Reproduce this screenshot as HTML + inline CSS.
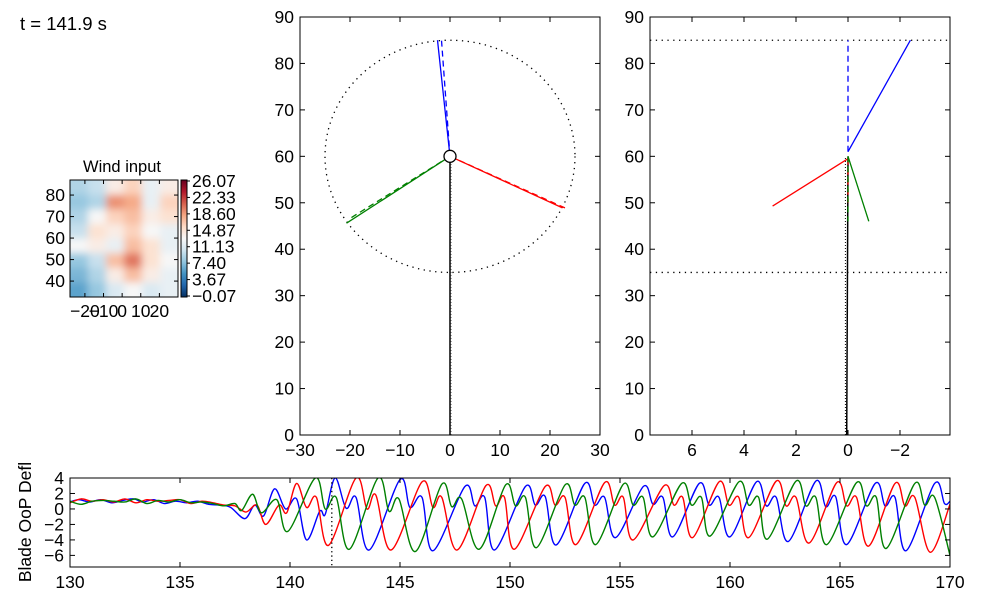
<!DOCTYPE html>
<html><head><meta charset="utf-8"><style>
html,body{margin:0;padding:0;background:#fff;}
svg{display:block;font-family:"Liberation Sans",sans-serif;}
</style></head><body>
<svg id="fig" width="1000" height="597" viewBox="0 0 1000 597" xmlns="http://www.w3.org/2000/svg">
<defs>
<filter id="blur" x="-10%" y="-10%" width="120%" height="120%"><feGaussianBlur stdDeviation="4"/></filter>
<clipPath id="hmclip"><rect x="70" y="180" width="108" height="117"/></clipPath>
<clipPath id="tsclip"><rect x="70" y="478" width="880" height="89"/></clipPath>
<linearGradient id="cbgrad" x1="0" y1="1" x2="0" y2="0">
<stop offset="0" stop-color="#053061"/><stop offset="0.1" stop-color="#2166ac"/><stop offset="0.2" stop-color="#4393c3"/><stop offset="0.3" stop-color="#92c5de"/><stop offset="0.4" stop-color="#d1e5f0"/><stop offset="0.5" stop-color="#f7f7f7"/><stop offset="0.6" stop-color="#fddbc7"/><stop offset="0.7" stop-color="#f4a582"/><stop offset="0.8" stop-color="#d6604d"/><stop offset="0.9" stop-color="#b2182b"/><stop offset="1" stop-color="#67001f"/>
</linearGradient>
</defs>
<text x="20" y="30" font-size="18.5">t = 141.9 s</text>
<g id="hm"></g>
<g id="mid"></g>
<g id="side"></g>
<g id="ts"></g>
</svg>
<script>
// ---------- data ----------
const windGrid = [
 [9,10,14,16,12,14],
 [8,9,19,18,12,16],
 [9,13,16,17,14,15],
 [10,15,14,16,13,12],
 [13,14,12,17,15,12],
 [8,10,17,20,15,13],
 [7,9,14,17,14,12],
 [6,8,11,13,11,12]
];
const cbLabels = ["26.07","22.33","18.60","14.87","11.13","7.40","3.67","\u22120.07"];
const tsXTicks = [130,135,140,145,150,155,160,165,170];
const tsYTicks = [4,2,0,-2,-4,-6];
const frontXTicks = [-30,-20,-10,0,10,20,30];
const yTicks90 = [0,10,20,30,40,50,60,70,80,90];
const sideXTicks = [6,4,2,0,-2];
const blueT=[130,130.4,130.9,131.4,131.9,132.4,132.9,133.3,133.8,134.3,134.8,135.3,135.8,136.3,136.8,137.3,137.95,138.4,138.8,139.3,139.8,140.3,140.75,141.35,141.6,142.05,142.55,143.0,143.6,145.0,145.45,146.0,146.5,147.95,148.4,148.85,149.3,150.7,151.15,151.6,152.1,153.4,153.85,154.3,154.8,156.06,156.5,156.95,157.4,158.6,159.05,159.5,160.0,161.2,161.65,162.1,162.65,163.9,164.35,164.8,165.3,166.6,167.05,167.5,168.0,169.3,169.75,170];
const blueV=[0.9,1.2,0.9,1.2,0.8,1.1,1.3,0.9,1.2,0.7,1.0,0.8,1.0,0.6,0.5,0.2,-1.25,0.5,-0.9,2.6,0.0,1.3,-4.0,-0.3,-0.7,4.0,0.1,1.5,-5.3,3.8,0.2,1.5,-5.4,2.9,0.4,1.5,-5.3,2.9,0.5,1.6,-4.65,3.3,0.5,1.5,-3.7,2.9,0.6,1.5,-3.6,3.3,0.5,1.5,-3.6,3.5,0.4,1.5,-4.2,3.6,0.3,1.6,-4.6,3.3,0.4,1.5,-5.4,3.3,0.7,1.0];
const redT=[130,130.5,131.0,131.5,132.0,132.5,133.0,133.5,134.0,134.5,135.0,135.5,136.0,136.5,137.0,137.5,138.0,138.5,138.9,139.5,139.85,140.3,140.75,141.2,141.75,143.0,143.5,143.9,144.6,146.0,146.5,146.9,147.6,148.9,149.35,149.75,150.2,151.6,152.05,152.5,153.0,154.3,154.75,155.15,155.6,157.0,157.45,157.85,158.3,159.5,159.95,160.4,160.85,162.1,162.55,163.0,163.6,164.85,165.3,165.75,166.3,167.5,167.95,168.4,169.1,170];
const redV=[0.8,1.3,1.0,1.2,0.9,1.3,0.8,1.2,1.0,1.1,1.2,0.7,1.0,0.8,0.5,0.4,-0.4,0.5,-2.0,0.5,-0.5,3.3,0.2,1.5,-4.7,4.0,0.0,1.8,-5.3,3.5,0.2,1.5,-5.3,3.0,0.4,1.5,-5.2,2.9,0.5,1.5,-4.6,3.4,0.5,1.5,-4.0,3.0,0.5,1.5,-3.7,3.5,0.5,1.5,-3.7,3.6,0.4,1.5,-4.4,3.4,0.4,1.5,-4.8,3.3,0.4,1.5,-5.6,0.6];
const greenT=[130,130.5,131.0,131.5,132.0,132.5,133.0,133.5,134.0,134.5,135.0,135.5,136.0,136.5,137.0,137.5,137.8,138.3,138.7,139.4,139.9,141.15,141.6,142.1,142.7,144.0,144.5,144.95,145.7,146.9,147.35,147.8,148.6,149.8,150.25,150.7,151.2,152.5,152.95,153.4,153.9,155.15,155.6,156.05,156.5,157.8,158.25,158.7,159.1,160.4,160.85,161.3,161.7,163.0,163.45,163.9,164.4,165.75,166.2,166.65,167.1,168.4,168.85,169.3,170];
const greenV=[1.0,0.6,1.0,1.1,1.0,0.9,1.3,0.7,1.1,0.9,1.2,0.8,0.9,0.7,0.4,0.7,-0.2,1.9,-0.5,1.2,-2.9,4.0,0.0,1.5,-5.2,4.0,-0.3,1.3,-5.5,3.2,0.3,1.3,-5.2,3.1,0.4,1.5,-5.0,3.1,0.5,1.5,-4.6,3.2,0.5,1.5,-3.6,3.3,0.5,1.5,-3.5,3.5,0.5,1.5,-3.9,3.6,0.4,1.5,-4.6,3.4,0.4,1.5,-5.1,3.3,0.5,1.5,-6.0];
const currentTime = 141.9;
const hubXY=[0,60];
const bladeTipsFront=[[-2.5,85],[22.5,48.9],[-20.7,45.6]];
const bladeDashFront=[[-1.7,85],[23.2,48.8],[-20.2,46.5]];
const bladeRootSide=[[0,61],[0,59.5],[0,60]];
const bladeTipSide=[[-2.4,85],[2.9,49.3],[-0.8,46]];
const bladeDashSide=[[0,85],[0,50],[0,46]];
const colors=["#0000ff","#ff0000","#008000"];
const names=["blue","red","green"];

const NS="http://www.w3.org/2000/svg";
const FS=17.5;
function el(parent,tag,attrs,name,text){const e=document.createElementNS(NS,tag);for(const k in attrs)e.setAttribute(k,attrs[k]);


if(text!==undefined)e.textContent=text;parent.appendChild(e);return e;}
const lin=(d0,d1,r0,r1)=>v=>r0+(v-d0)/(d1-d0)*(r1-r0);

const rdbu=[[5,48,97],[33,102,172],[67,147,195],[146,197,222],[209,229,240],[247,247,247],[253,219,199],[244,165,130],[214,96,77],[178,24,43],[103,0,31]];
function cmap(v){let t=(v+0.07)/(26.07+0.07);t=Math.max(0,Math.min(1,t))*10;const i=Math.min(9,Math.floor(t)),f=t-i;const a=rdbu[i],b=rdbu[i+1];
return `rgb(${a.map((c,k)=>Math.round(c+(b[k]-c)*f)).join(',')})`;}

// ---------- heatmap ----------
const hm=document.getElementById('hm');
const hx=lin(-28,30,70,178), hy=lin(87,32.6,180,297);
el(hm,'text',{x:122,y:172,'font-size':16.5,'text-anchor':'middle'},'heatmap-title','Wind input');
const cells=el(hm,'g',{'clip-path':'url(#hmclip)'},'heatmap-cells');
const inner=el(cells,'g',{filter:'url(#blur)'},'heatmap-blur');
const nr=windGrid.length,nc=windGrid[0].length;
const cw=(178-70)/nc, ch=(297-180)/nr;
windGrid.forEach((row,r)=>row.forEach((v,c)=>{
 el(inner,'rect',{x:70+c*cw-(c==0?8:0),y:180+r*ch-(r==0?8:0),width:cw+(c==0||c==nc-1?8:0)+0.5,height:ch+(r==0||r==nr-1?8:0)+0.5,fill:cmap(v)},'heatmap-cell');
}));
el(hm,'rect',{x:70,y:180,width:108,height:117,fill:'none',stroke:'#000','stroke-width':1},'heatmap-frame');
[80,70,60,50,40].forEach(v=>{const y=hy(v);
 el(hm,'line',{x1:70,x2:74,y1:y,y2:y,stroke:'#000'},'heatmap-ytick');
 el(hm,'line',{x1:174,x2:178,y1:y,y2:y,stroke:'#000'},'heatmap-ytick');
 el(hm,'text',{x:65,y:y+6,'font-size':FS,'text-anchor':'end'},'heatmap-ytick-label',String(v));});
[-20,-10,0,10,20].forEach(v=>{const x=hx(v);
 el(hm,'line',{x1:x,x2:x,y1:297,y2:293,stroke:'#000'},'heatmap-xtick');
 el(hm,'line',{x1:x,x2:x,y1:180,y2:184,stroke:'#000'},'heatmap-xtick');
 el(hm,'text',{x:x,y:317,'font-size':FS,'text-anchor':'middle'},'heatmap-xtick-label',(v<0?'\u2212':'')+Math.abs(v));});
el(hm,'rect',{x:181,y:180,width:6,height:117,fill:'url(#cbgrad)',stroke:'#000','stroke-width':1},'colorbar');
cbLabels.forEach((s,i)=>{const y=181+i*(115/7);
 el(hm,'line',{x1:187,x2:190,y1:y,y2:y,stroke:'#000'},'colorbar-tick');
 el(hm,'text',{x:192,y:y+6,'font-size':FS},'colorbar-label',s);});

// ---------- generic axes ----------
function axesBox(g,x0,y0,x1,y1,name){el(g,'rect',{x:x0,y:y0,width:x1-x0,height:y1-y0,fill:'none',stroke:'#000','stroke-width':1},name);}
function yticks(g,fy,ticks,x0,x1,fmt){ticks.forEach(v=>{const y=fy(v);
 el(g,'line',{x1:x0,x2:x0+5,y1:y,y2:y,stroke:'#000'},'ytick');
 el(g,'line',{x1:x1-5,x2:x1,y1:y,y2:y,stroke:'#000'},'ytick');
 el(g,'text',{x:x0-6,y:y+6,'font-size':FS,'text-anchor':'end'},'ytick-label',fmt(v));});}
function xticks(g,fx,ticks,y0,y1,fmt){ticks.forEach(v=>{const x=fx(v);
 el(g,'line',{x1:x,x2:x,y1:y1,y2:y1-5,stroke:'#000'},'xtick');
 el(g,'line',{x1:x,x2:x,y1:y0,y2:y0+5,stroke:'#000'},'xtick');
 el(g,'text',{x:x,y:y1+21,'font-size':FS,'text-anchor':'middle'},'xtick-label',fmt(v));});}
const fmt=v=>(v<0?'\u2212':'')+Math.abs(v);

// ---------- front view ----------
const mid=document.getElementById('mid');
const mx=lin(-30,30,300,600), my=lin(0,90,435,17);
el(mid,'ellipse',{cx:mx(hubXY[0]),cy:my(hubXY[1]),rx:mx(25)-mx(0),ry:my(0)-my(25),fill:'none',stroke:'#000','stroke-width':1.3,'stroke-dasharray':'1.3 4.5'},'rotor-circle');
el(mid,'line',{x1:mx(0),y1:my(0),x2:mx(0),y2:my(hubXY[1]),stroke:'#000','stroke-width':1.5},'tower');
el(mid,'line',{x1:mx(0)+1,y1:my(0),x2:mx(0)+1,y2:my(hubXY[1]),stroke:'#555','stroke-width':1,'stroke-dasharray':'1 2'},'tower-dotted');
bladeTipsFront.forEach((t,i)=>{
 el(mid,'line',{x1:mx(hubXY[0]),y1:my(hubXY[1]),x2:mx(bladeDashFront[i][0]),y2:my(bladeDashFront[i][1]),stroke:colors[i],'stroke-width':1.3,'stroke-dasharray':'6 4'},'blade-'+names[i]+'-undeformed');
 el(mid,'line',{x1:mx(hubXY[0]),y1:my(hubXY[1]),x2:mx(t[0]),y2:my(t[1]),stroke:colors[i],'stroke-width':1.3},'blade-'+names[i]);
});
el(mid,'circle',{cx:mx(hubXY[0]),cy:my(hubXY[1]),r:6,fill:'#fff',stroke:'#000','stroke-width':1.3},'hub');
axesBox(mid,300,17,600,435,'front-axes-frame');
yticks(mid,my,yTicks90,300,600,fmt);
xticks(mid,mx,frontXTicks,17,435,fmt);

// ---------- side view ----------
const side=document.getElementById('side');
const sx=lin(0,-2,848,900), sy=my;
[85,35].forEach(v=>el(side,'line',{x1:650,x2:950,y1:sy(v),y2:sy(v),stroke:'#000','stroke-width':1.3,'stroke-dasharray':'1.3 4.5'},'rotor-extent-line'));
el(side,'line',{x1:sx(0.05),y1:sy(0),x2:sx(0),y2:sy(60),stroke:'#000','stroke-width':1.5},'tower-side');
el(side,'line',{x1:sx(0.1),y1:sy(0),x2:sx(0.1),y2:sy(60),stroke:'#000','stroke-width':1,'stroke-dasharray':'1 2'},'tower-side-dotted');
bladeTipSide.forEach((t,i)=>{const r=bladeRootSide[i];
 el(side,'line',{x1:sx(r[0]),y1:sy(r[1]),x2:sx(bladeDashSide[i][0]),y2:sy(bladeDashSide[i][1]),stroke:colors[i],'stroke-width':1.3,'stroke-dasharray':'6 4'},'blade-'+names[i]+'-side-undeformed');
 el(side,'line',{x1:sx(r[0]),y1:sy(r[1]),x2:sx(t[0]),y2:sy(t[1]),stroke:colors[i],'stroke-width':1.3},'blade-'+names[i]+'-side');
});
axesBox(side,650,17,950,435,'side-axes-frame');
yticks(side,sy,yTicks90,650,950,fmt);
xticks(side,sx,sideXTicks,17,435,fmt);

// ---------- time series ----------
const ts=document.getElementById('ts');
const tx=lin(130,170,70,950), ty=lin(4,-7.5,478,567);
function crPath(T,V){const P=T.map((t,i)=>[tx(t),ty(V[i])]);let d=`M${P[0][0]},${P[0][1]}`;
 for(let i=0;i<P.length-1;i++){const p0=P[Math.max(0,i-1)],p1=P[i],p2=P[i+1],p3=P[Math.min(P.length-1,i+2)];
  const c1=[p1[0]+(p2[0]-p0[0])/6,p1[1]+(p2[1]-p0[1])/6],c2=[p2[0]-(p3[0]-p1[0])/6,p2[1]-(p3[1]-p1[1])/6];
  d+=` C${c1[0]},${c1[1]} ${c2[0]},${c2[1]} ${p2[0]},${p2[1]}`;}return d;}
const tsg=el(ts,'g',{'clip-path':'url(#tsclip)'},'series-group');
[[blueT,blueV],[redT,redV],[greenT,greenV]].forEach((s,i)=>{
 el(tsg,'path',{d:crPath(s[0],s[1]),fill:'none',stroke:colors[i],'stroke-width':1.4,'stroke-linejoin':'round'},'series-'+names[i]);});
el(ts,'line',{x1:tx(currentTime),x2:tx(currentTime),y1:478,y2:567,stroke:'#000','stroke-width':1.3,'stroke-dasharray':'1.3 3'},'current-time-marker');
axesBox(ts,70,478,950,567,'ts-axes-frame');
yticks(ts,ty,tsYTicks,70,950,fmt);
xticks(ts,tx,tsXTicks,478,567,v=>String(v));
el(ts,'text',{x:31,y:522,'font-size':FS,'text-anchor':'middle',transform:'rotate(-90 31 522)'},'ts-y-axis-title','Blade OoP Defl');
</script>
</body></html>
